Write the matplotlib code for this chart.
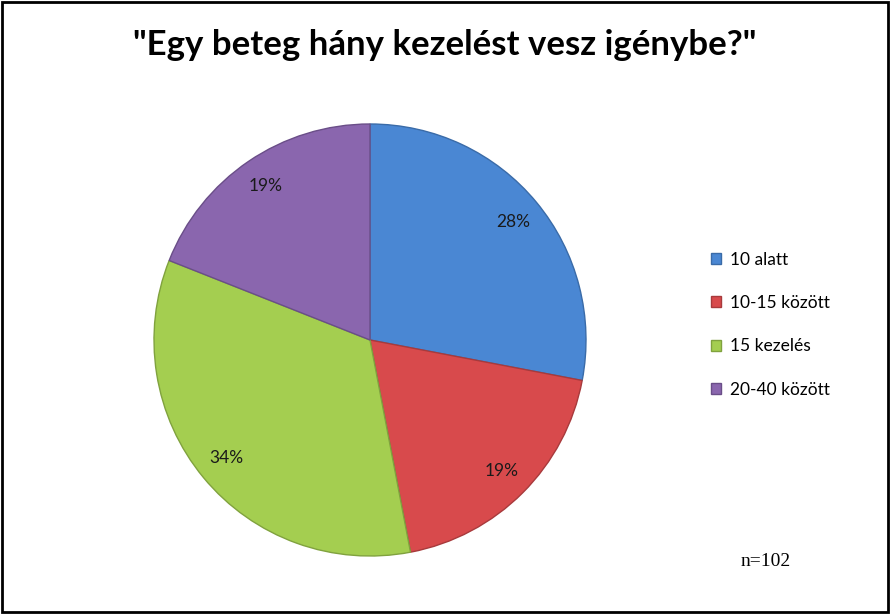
import matplotlib.pyplot as plt
from matplotlib.patches import Rectangle

categories = ['10 alatt', '10-15 között', '15 kezelés', '20-40 között']
values = [28, 19, 34, 19]
colors = ['#4A87D3', '#D84A4C', '#A4CE50', '#8A66AE']
edges = ['#3A6BA8', '#A83A3C', '#80A23E', '#6A4E88']

fig = plt.figure(figsize=(8.91, 6.14), dpi=100)
W, H = 891, 614
cx, cy, r = 370, 340, 216
ax = fig.add_axes([(cx - r) / W, (H - cy - r) / H, 2 * r / W, 2 * r / H])

wedges, texts, autotexts = ax.pie(values, colors=colors, startangle=90, counterclock=False,
                                  autopct='%d%%', pctdistance=0.86, radius=1,
                                  wedgeprops=dict(linewidth=1.0),
                                  textprops=dict(fontsize=12.5, family='Lato', color='#1a1a1a'))
for w, e in zip(wedges, edges):
    w.set_edgecolor(e)
ax.set_xlim(-1, 1)
ax.set_ylim(-1, 1)
ax.set_aspect('equal')
ax.axis('off')

fig.text(445 / W, 1 - 45 / H, '"Egy beteg hány kezelést vesz igénybe?"', ha='center', va='center',
         fontsize=25, fontweight='bold', family='Lato')

fig.legend(wedges, categories, loc='upper left', bbox_to_anchor=(695 / W, 1 - 236 / H),
           frameon=False, handlelength=0.6, handleheight=0.6, handletextpad=0.5,
           labelspacing=1.58, prop=dict(family='Lato', size=12.5))

fig.text(766 / W, 1 - 561 / H, 'n=102', ha='center', va='center', fontsize=14,
         family='Liberation Serif')

fig.patches.append(Rectangle((0.002, 0.003), 0.995, 0.994, transform=fig.transFigure,
                             fill=False, edgecolor='black', linewidth=2))

fig.savefig('out.png', dpi=100)
